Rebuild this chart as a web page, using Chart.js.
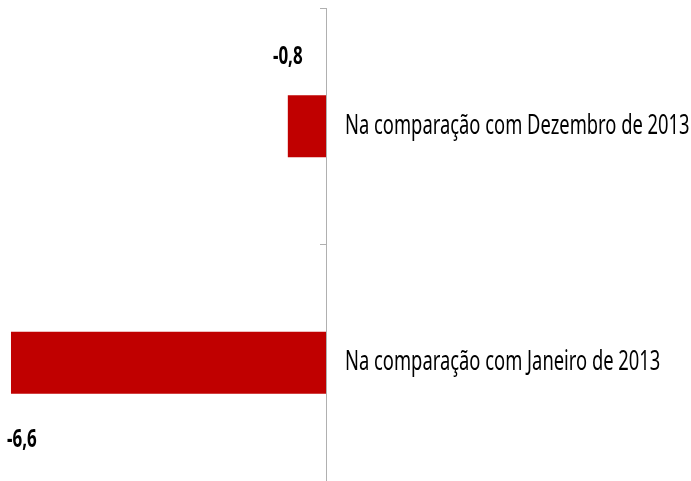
<!DOCTYPE html>
<html>
<head>
<meta charset="utf-8">
<script src="https://cdn.jsdelivr.net/npm/chart.js@4/dist/chart.umd.min.js"></script>
<style>
  html, body { margin: 0; padding: 0; background: #fff; }
  #wrap { width: 691px; height: 481px; }
</style>
</head>
<body>
<div id="wrap"><canvas id="bar-chart"></canvas></div>
<script>
// data
var categories = ["Na comparação com Dezembro de 2013", "Na comparação com Janeiro de 2013"];
var values = [-0.8, -6.6];

// where each value label sits relative to the bar end (dx, dy from bar top/bottom)
var labelPlace = [
  { dx: 0, dy: -38, side: "top" },
  { dx: 11, dy: 46, side: "bottom" }
];

var squeeze = 0.68;

var labelsPlugin = {
  id: "labelsPlugin",
  afterDraw: function (chart) {
    var ctx = chart.ctx;
    var meta = chart.getDatasetMeta(0);
    var yScale = chart.scales.y;
    ctx.save();
    ctx.fillStyle = "#000";
    ctx.textBaseline = "middle";

    // category labels, left aligned to the right of the axis
    ctx.font = "27px 'Noto Sans', sans-serif";
    categories.forEach(function (c, i) {
      var y = yScale.getPixelForValue(i);
      ctx.save();
      ctx.translate(chart.chartArea.right + 19, y);
      ctx.scale(squeeze, 1);
      ctx.textAlign = "left";
      ctx.fillText(c, 0, 0);
      ctx.restore();
    });

    // value labels
    ctx.font = "bold 25px 'Noto Sans', sans-serif";
    meta.data.forEach(function (bar, i) {
      var p = labelPlace[i];
      var h = bar.height;
      var yy = p.side === "top" ? bar.y - h / 2 + p.dy : bar.y + h / 2 + p.dy;
      ctx.save();
      ctx.translate(bar.x + p.dx, yy);
      ctx.scale(squeeze, 1);
      ctx.textAlign = "center";
      ctx.fillText(values[i].toFixed(1).replace(".", ","), 0, 0);
      ctx.restore();
    });
    ctx.restore();
  }
};

new Chart(document.getElementById("bar-chart"), {
  type: "bar",
  data: {
    labels: categories,
    datasets: [{
      data: values,
      backgroundColor: "#c00000",
      borderColor: "#c00000",
      borderWidth: 0,
      categoryPercentage: 1,
      barPercentage: 0.263
    }]
  },
  options: {
    indexAxis: "y",
    responsive: true,
    maintainAspectRatio: false,
    animation: false,
    layout: { padding: { top: 8, bottom: 0, left: 0, right: 0 } },
    plugins: {
      legend: { display: false },
      tooltip: { enabled: false }
    },
    scales: {
      x: {
        display: false,
        min: -6.83,
        max: 0
      },
      y: {
        position: "right",
        ticks: { display: false },
        grid: {
          offset: true,
          drawOnChartArea: false,
          drawTicks: true,
          tickLength: -6,
          color: "#b0b0b0"
        },
        border: { display: true, color: "#b0b0b0", width: 1 },
        afterFit: function (scale) { scale.width = 365; }
      }
    }
  },
  plugins: [labelsPlugin]
});
</script>
</body>
</html>
